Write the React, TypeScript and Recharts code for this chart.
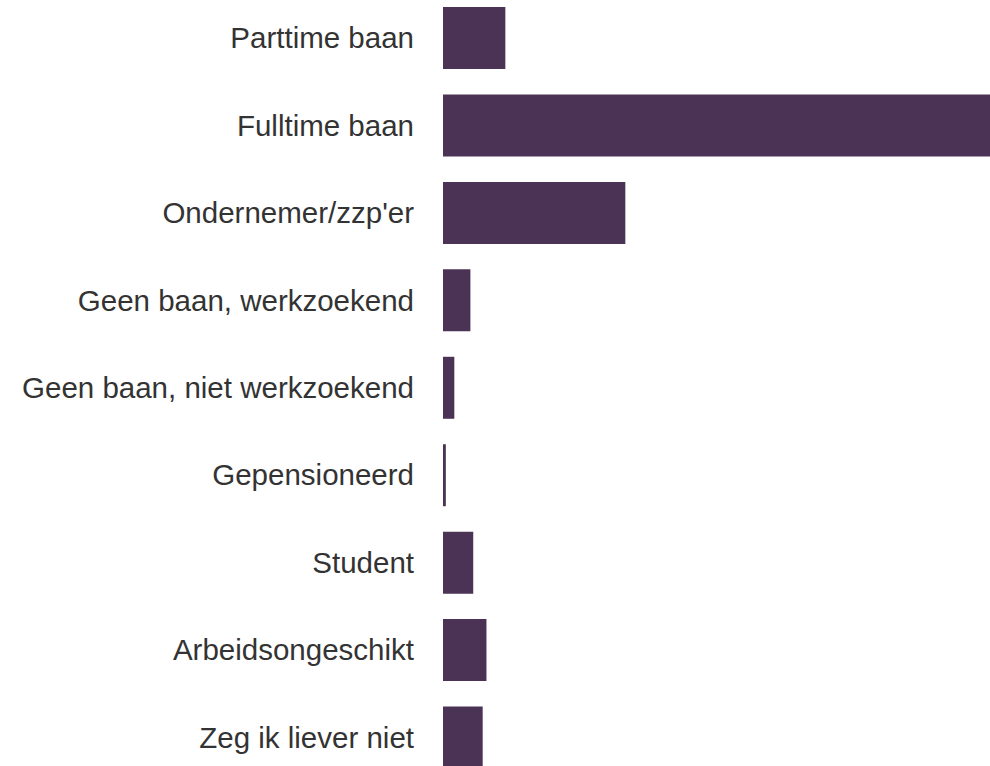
import { BarChart, Bar, XAxis, YAxis } from 'recharts';

const categories = [
  'Parttime baan',
  'Fulltime baan',
  "Ondernemer/zzp'er",
  'Geen baan, werkzoekend',
  'Geen baan, niet werkzoekend',
  'Gepensioneerd',
  'Student',
  'Arbeidsongeschikt',
  'Zeg ik liever niet',
];

// share of respondents (%)
const shares = [6.6, 57.9, 19.3, 2.9, 1.2, 0.3, 3.2, 4.6, 4.2];

const BAR_COLOR = '#4b3355';

export default function App() {
  const data = categories.map((name, i) => ({ name, value: shares[i] }));

  return (
    <div
      style={{
        position: 'fixed',
        left: 0,
        top: 0,
        width: 990,
        height: 766,
        overflow: 'hidden',
        background: '#fff',
      }}
    >
      <div style={{ position: 'relative', top: -6 }}>
        <BarChart
          width={990}
          height={787}
          data={data}
          layout="vertical"
          margin={{ top: 0, right: 0, bottom: 0, left: 0 }}
          barSize={62}
        >
          <XAxis type="number" hide domain={[0, 'dataMax']} />
          <YAxis
            type="category"
            dataKey="name"
            width={443}
            axisLine={false}
            tickLine={false}
            tickMargin={23}
            interval={0}
            tick={{
              fontSize: 29.5,
              fill: '#333333',
              fontFamily: '"Liberation Sans", Arial, Helvetica, sans-serif',
            }}
          />
          <Bar dataKey="value" fill={BAR_COLOR} isAnimationActive={false} />
        </BarChart>
      </div>
    </div>
  );
}
